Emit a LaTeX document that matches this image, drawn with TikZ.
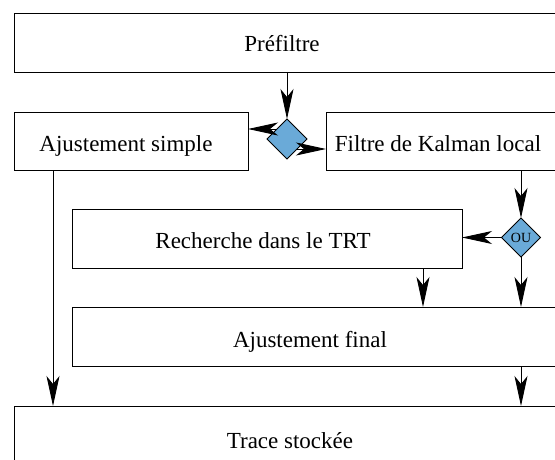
\documentclass[tikz,border=0pt]{standalone}
\usepackage{fontspec}
\setmainfont{Liberation Serif}
\usetikzlibrary{shapes.geometric,arrows.meta}
\definecolor{dfill}{RGB}{106,170,216}
\begin{document}
\begin{tikzpicture}[x=1pt,y=-1pt,
  box/.style={draw,line width=0.9pt,rectangle,inner sep=0pt,outer sep=0pt,anchor=north west},
  lbl/.style={anchor=base,inner sep=0pt,font=\fontsize{23}{27}\selectfont},
  dec/.style={draw,line width=0.9pt,diamond,fill=dfill,inner sep=0pt,outer sep=0pt,aspect=1},
  arr/.style={line width=0.9pt,-{Stealth[length=30pt,width=13pt,inset=8pt]}}]
\clip (0,0) rectangle (555,460);
% boxes
\node[box,minimum width=600pt,minimum height=59pt] (pre) at (14,13) {};
\node[box,minimum width=234pt,minimum height=58pt] (as) at (14,112) {};
\node[box,minimum width=300pt,minimum height=58pt] (kal) at (326,112) {};
\node[box,minimum width=390pt,minimum height=59pt] (rech) at (72,209) {};
\node[box,minimum width=600pt,minimum height=59pt] (fin) at (72,307) {};
\node[box,minimum width=600pt,minimum height=60pt] (tr) at (14,406) {};
% labels
\node[lbl] (preT) at (282,52) {Préfiltre};
\node[lbl] (asT) at (126,152) {Ajustement simple};
\node[lbl] (kalT) at (438,152) {Filtre de Kalman local};
\node[lbl] (rechT) at (263,248) {Recherche dans le TRT};
\node[lbl] (finT) at (310,347) {Ajustement final};
\node[lbl] (trT) at (290,448) {Trace stockée};
% decisions
\node[dec,minimum width=40pt,minimum height=40pt] (d1) at (287,139) {};
\node[dec,minimum width=39pt,minimum height=39pt,font=\fontsize{14}{16}\selectfont] (ou) at (521,237.5) {OU};
% connectors
\draw[arr] (d1.north |- pre.south) -- (d1.north);
\draw[arr] (d1.north west) -- (d1.north west -| as.east);
\draw[arr] (d1.south east) -- (d1.south east -| kal.west);
\draw[arr] (ou.north |- kal.south) -- (ou.north);
\draw[arr] (ou.west) -- (ou.west -| rech.east);
\draw[arr] (ou.south) -- (ou.south |- fin.north);
\draw[arr] ([xshift=-39pt]rech.south east) -- ([xshift=-39pt]rech.south east |- fin.north);
\draw[arr] ([xshift=39pt]as.south west) -- ([xshift=39pt]as.south west |- tr.north);
\draw[arr] (ou.south |- fin.south) -- (ou.south |- tr.north);
\end{tikzpicture}
\end{document}
